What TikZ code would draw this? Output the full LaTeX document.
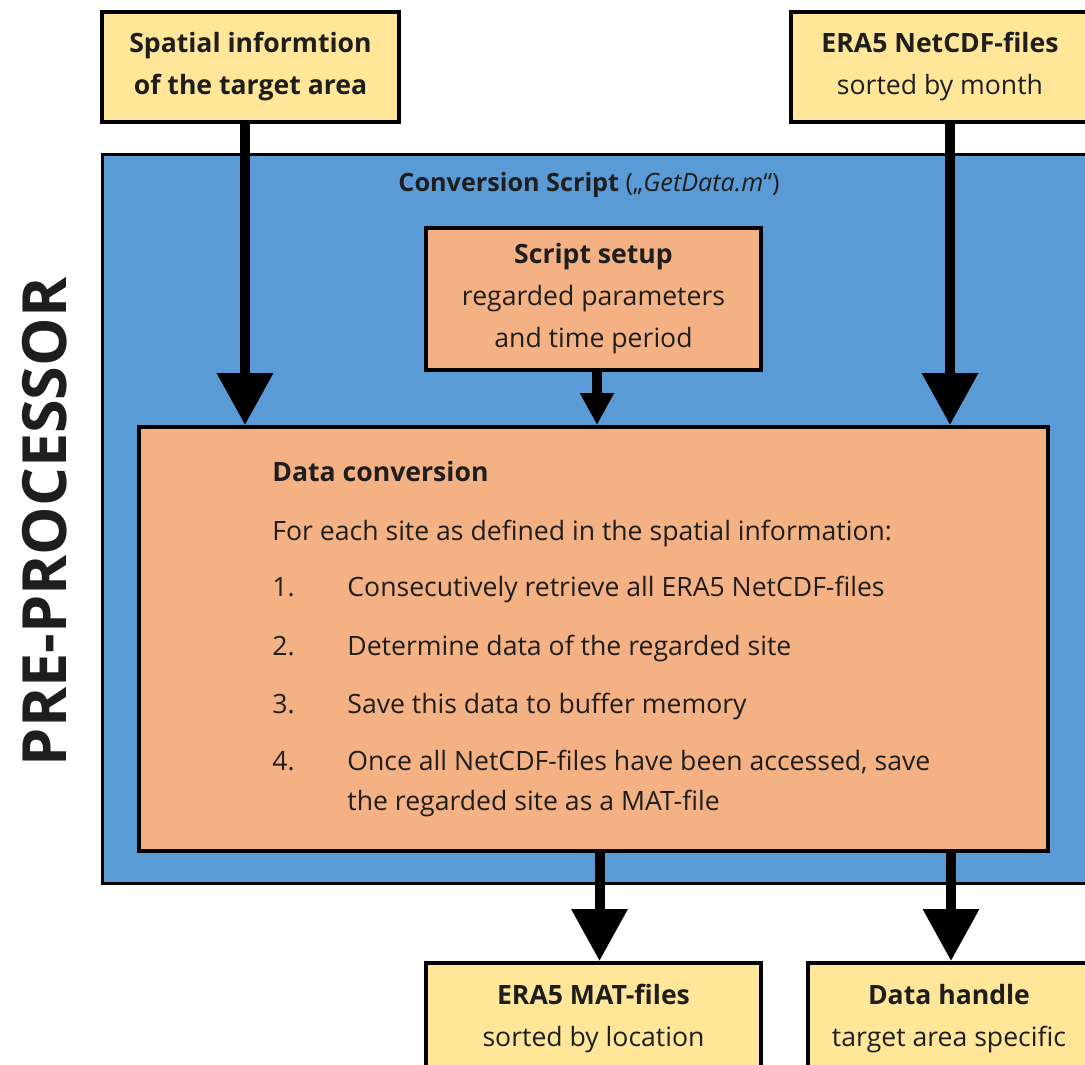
\documentclass[tikz,border=0pt]{standalone}
\usepackage{fontspec}
\setmainfont{Open Sans}
\usetikzlibrary{arrows.meta,positioning}
\definecolor{inyellow}{HTML}{FFE699}
\definecolor{stepsalmon}{HTML}{F4B183}
\definecolor{scriptblue}{HTML}{5B9BD5}
\definecolor{textgray}{HTML}{1E1E1E}
\begin{document}
\begin{tikzpicture}[x=0.5pt,y=-0.5pt,
  font=\fontsize{13.3}{21}\selectfont,text=textgray,
  inputbox/.style={draw,line width=2pt,fill=inyellow,align=center,inner sep=0pt},
  stepbox/.style={draw,line width=2pt,fill=stepsalmon,align=center,inner sep=0pt},
  textline/.style={anchor=base west,inner sep=0pt,align=left,font=\fontsize{13.3}{20}\selectfont},
  bigarrow/.style={line width=5pt,-{Triangle[length=26pt,width=27pt]}},
  smallarrow/.style={line width=5pt,-{Triangle[length=16pt,width=16pt]}}]
\useasboundingbox (0,0) rectangle (1085,1064);
\clip (0,0) rectangle (1085,1064);

% inputs
\node[inputbox,minimum width=148.5pt,minimum height=55pt] (spatial) at (250.5,67) {\textbf{Spatial informtion}\\\textbf{of the target area}};
\node[inputbox,minimum width=149pt,minimum height=55pt] (netcdf) at (940,67) {\textbf{ERA5 NetCDF-files}\\sorted by month};

% conversion script
\node[draw,line width=1.5pt,fill=scriptblue,minimum width=499pt,minimum height=364pt] (script) at (601,519) {};
\node[font=\fontsize{12.6}{14}\selectfont] (scripttitle) at (589,185) {\textbf{Conversion Script} („\textit{GetData.m}“)};
\node[rotate=90,font=\fontsize{30.5}{32}\selectfont\bfseries] (prelabel) at (45,522) {PRE-PROCESSOR};

\node[stepbox,minimum width=167.5pt,minimum height=71pt] (setup) at (593.5,299) {\textbf{Script setup}\\regarded parameters\\and time period};
\node[stepbox,minimum width=454.5pt,minimum height=212pt] (conv) at (593.5,639) {};
\node[textline] (convhead) at (272,481) {\textbf{Data conversion}};
\node[textline] (convintro) at (272,540) {For each site as defined in the spatial information:};
\foreach \num/\y/\txt in {1/596/Consecutively retrieve all ERA5 NetCDF-files,
                          2/655/Determine data of the regarded site,
                          3/713/Save this data to buffer memory}{
  \node[textline] (num\num) at (272,\y) {\num.};
  \node[textline] (item\num) at (347,\y) {\txt};
}
\node[textline] (num4) at (272,770) {4.};
\node[textline] (item4) at (347,810) {Once all NetCDF-files have been accessed, save\\the regarded site as a MAT-file};

% outputs
\node[inputbox,minimum width=167.5pt,minimum height=56pt] (matfiles) at (593.5,1019) {\textbf{ERA5 MAT-files}\\sorted by location};
\node[inputbox,minimum width=141pt,minimum height=56pt] (handle) at (949,1019) {\textbf{Data handle}\\target area specific};

% arrows
\draw[bigarrow] ([xshift=-2.75pt]spatial.south) -- ([xshift=-2.75pt]spatial.south |- conv.north);
\draw[bigarrow] ([xshift=5pt]netcdf.south) -- ([xshift=5pt]netcdf.south |- conv.north);
\draw[smallarrow] ([xshift=1.75pt]setup.south) -- ([xshift=1.75pt]setup.south |- conv.north);
\draw[bigarrow] ([xshift=3pt]conv.south) -- ([xshift=3pt]conv.south |- matfiles.north);
\draw[bigarrow] ([xshift=1pt]handle.north |- conv.south) -- ([xshift=1pt]handle.north);
\end{tikzpicture}
\end{document}
